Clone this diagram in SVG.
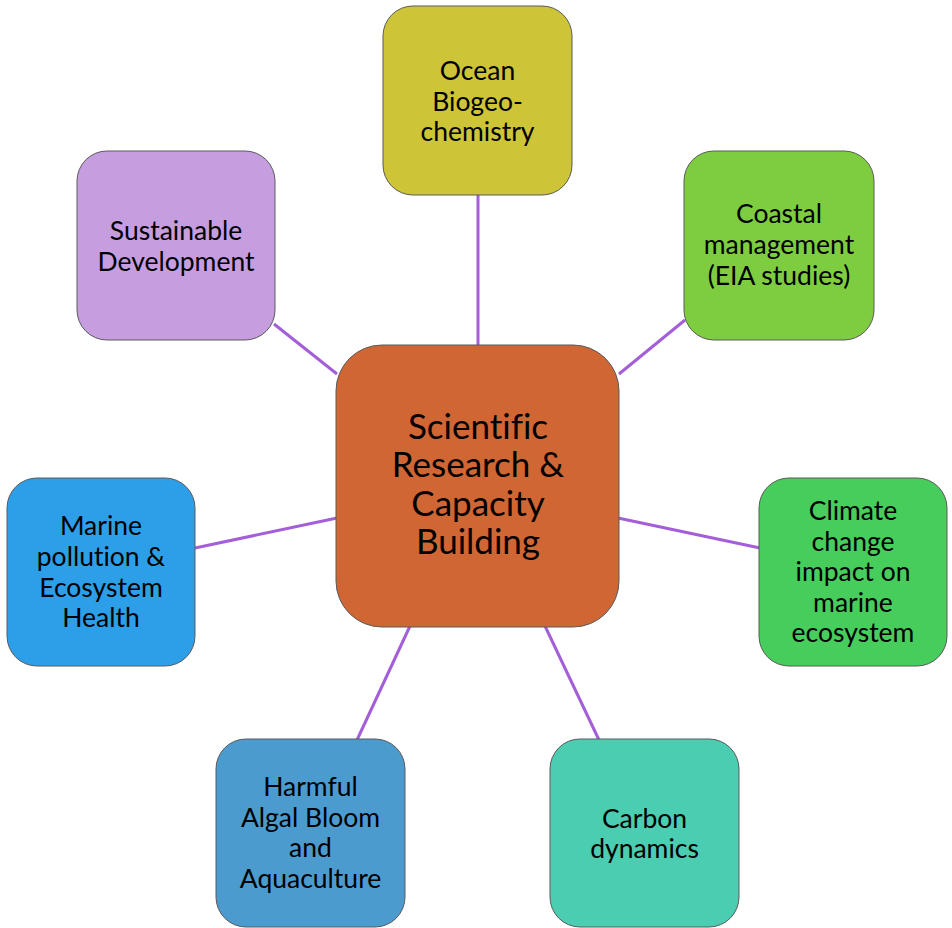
<svg xmlns="http://www.w3.org/2000/svg" width="952" height="928" viewBox="0 0 952 928">
  <style>
    .box { stroke: #5a5a5a; stroke-width: 1; }
    .link { stroke: #a35ed8; stroke-width: 3; fill: none; }
    text { font-family: Lato, "Open Sans", "Liberation Sans", sans-serif; fill: #000; text-anchor: middle; font-variant-ligatures: none; }
    .lbl { font-size: 26.5px; }
    .hub { font-size: 35px; }
  </style>
  <rect x="0" y="0" width="952" height="928" fill="#ffffff"/>

  <!-- spokes from the hub to each topic -->
  <g id="connectors">
    <line class="link" x1="478" y1="195" x2="478" y2="346"/>
    <line class="link" x1="685" y1="320" x2="619" y2="374"/>
    <line class="link" x1="760" y1="548" x2="618" y2="518"/>
    <line class="link" x1="599" y1="740" x2="545" y2="626"/>
    <line class="link" x1="357" y1="740" x2="410" y2="626"/>
    <line class="link" x1="195" y1="548" x2="337" y2="518"/>
    <line class="link" x1="274" y1="324" x2="337" y2="374"/>
  </g>

  <g id="hub">
    <rect class="box" x="336" y="345" width="283" height="282" rx="46" fill="#cf6634"/>
    <text class="hub" x="478" y="439">Scientific</text>
    <text class="hub" x="478" y="477">Research &amp;</text>
    <text class="hub" x="478" y="516">Capacity</text>
    <text class="hub" x="478" y="554">Building</text>
  </g>

  <g id="ocean-biogeochemistry">
    <rect class="box" x="383" y="6" width="189" height="189" rx="30" fill="#cec437"/>
    <text class="lbl" x="477.5" y="80">Ocean</text>
    <text class="lbl" x="477.5" y="110.5">Biogeo-</text>
    <text class="lbl" x="477.5" y="141">chemistry</text>
  </g>

  <g id="coastal-management">
    <rect class="box" x="684" y="151" width="190" height="189" rx="30" fill="#7ecd40"/>
    <text class="lbl" x="779" y="223">Coastal</text>
    <text class="lbl" x="779" y="254">management</text>
    <text class="lbl" x="779" y="285">(EIA studies)</text>
  </g>

  <g id="climate-change">
    <rect class="box" x="759" y="478" width="188" height="188" rx="30" fill="#46cd5b"/>
    <text class="lbl" x="853" y="520">Climate</text>
    <text class="lbl" x="853" y="551">change</text>
    <text class="lbl" x="853" y="581">impact on</text>
    <text class="lbl" x="853" y="612">marine</text>
    <text class="lbl" x="853" y="642">ecosystem</text>
  </g>

  <g id="carbon-dynamics">
    <rect class="box" x="550" y="739" width="189" height="188" rx="30" fill="#4acdb0"/>
    <text class="lbl" x="644.5" y="828">Carbon</text>
    <text class="lbl" x="644.5" y="858">dynamics</text>
  </g>

  <g id="harmful-algal-bloom">
    <rect class="box" x="216" y="739" width="189" height="188" rx="30" fill="#4c9bcf"/>
    <text class="lbl" x="310.5" y="796">Harmful</text>
    <text class="lbl" x="310.5" y="827">Algal Bloom</text>
    <text class="lbl" x="310.5" y="857">and</text>
    <text class="lbl" x="310.5" y="888">Aquaculture</text>
  </g>

  <g id="marine-pollution">
    <rect class="box" x="7" y="478" width="188" height="188" rx="30" fill="#2d9fe9"/>
    <text class="lbl" x="101" y="535">Marine</text>
    <text class="lbl" x="101" y="566">pollution &amp;</text>
    <text class="lbl" x="101" y="597">Ecosystem</text>
    <text class="lbl" x="101" y="627">Health</text>
  </g>

  <g id="sustainable-development">
    <rect class="box" x="77" y="151" width="198" height="189" rx="30" fill="#c69ee0"/>
    <text class="lbl" x="176" y="240">Sustainable</text>
    <text class="lbl" x="176" y="271">Development</text>
  </g>
</svg>
